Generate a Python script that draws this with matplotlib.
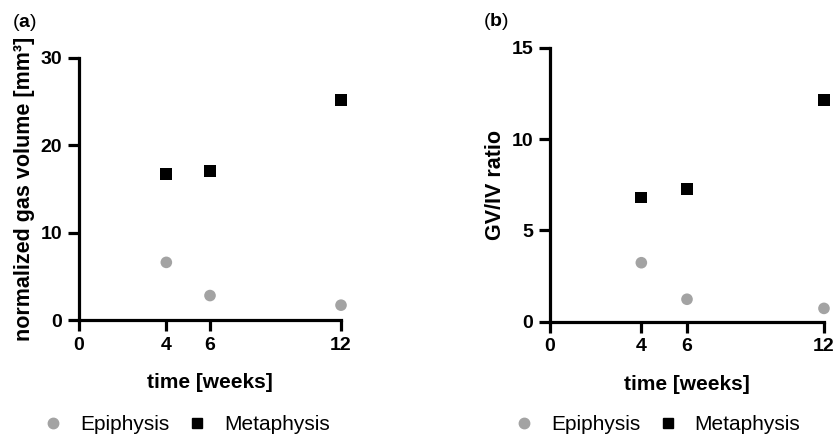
import matplotlib
matplotlib.use('Agg')
import matplotlib.pyplot as plt
from matplotlib.lines import Line2D

######## ######## ######## ########
# DATA

weeks = [4, 6, 12]
xTicks = [0, 4, 6, 12]

# (a) normalized gas volume [mm3]
gasEpi = [6.6, 2.8, 1.7]
gasMeta = [16.7, 17.1, 25.2]

# (b) GV/IV ratio
ratioEpi = [3.23, 1.23, 0.73]
ratioMeta = [6.8, 7.25, 12.15]

######## ######## ######## ########

plt.rcParams['font.family'] = ['Liberation Sans', 'DejaVu Sans']
plt.rcParams['mathtext.fontset'] = 'custom'
plt.rcParams['mathtext.rm'] = 'Liberation Sans'
plt.rcParams['mathtext.bf'] = 'Liberation Sans:bold'

grey = '#a3a3a3'
fig = plt.figure(figsize=(8.35, 4.37), dpi=100)


def drawPanel(rect, epi, meta, ylab, ymax, yticks, tag, tagPos, legX) :
	ax = fig.add_axes(rect)
	ax.scatter(weeks, epi, s=70, marker='o', color=grey, edgecolors='none', clip_on=False, zorder=3)
	ax.scatter(weeks, meta, s=72, marker='s', color='black', edgecolors='none', clip_on=False, zorder=3)
	ax.set_xlim(0, 12)
	ax.set_ylim(0, ymax)
	ax.set_xticks(xTicks)
	ax.set_yticks(yticks)
	for s in ['top', 'right'] :
		ax.spines[s].set_visible(False)
	for s in ['left', 'bottom'] :
		ax.spines[s].set_linewidth(2.3)
	ax.tick_params(width=2.3, length=8, labelsize=14, pad=4)
	for lbl in ax.get_xticklabels() + ax.get_yticklabels() :
		lbl.set_fontweight('bold')
	ax.set_xlabel('time [weeks]', fontsize=15, fontweight='bold', labelpad=14)
	ax.set_ylabel(ylab, fontsize=15.5, fontweight='bold', labelpad=4)
	fig.text(tagPos[0], tagPos[1], '(' + r'$\mathbf{' + tag + '}$' + ')', fontsize=14, va='center')

	handles = [Line2D([], [], marker='o', color=grey, ls='none', markersize=7.5),
		Line2D([], [], marker='s', color='black', ls='none', markersize=7.5)]
	fig.legend(handles, ['Epiphysis', 'Metaphysis'], loc='center', bbox_to_anchor=(legX, 0.028),
		ncol=2, frameon=False, fontsize=15, handletextpad=0.8, columnspacing=0.8, handlelength=1.0)
	return ax
#end def


drawPanel([0.0946, 0.2677, 0.3138, 0.5996], gasEpi, gasMeta, 'normalized gas volume [mm³]',
	30, [0, 10, 20, 30], 'a', (0.014, 0.948), 0.223)
drawPanel([0.6587, 0.2638, 0.3281, 0.627], ratioEpi, ratioMeta, 'GV/IV ratio',
	15, [0, 5, 10, 15], 'b', (0.578, 0.95), 0.787)

fig.savefig('out.png', dpi=100)
